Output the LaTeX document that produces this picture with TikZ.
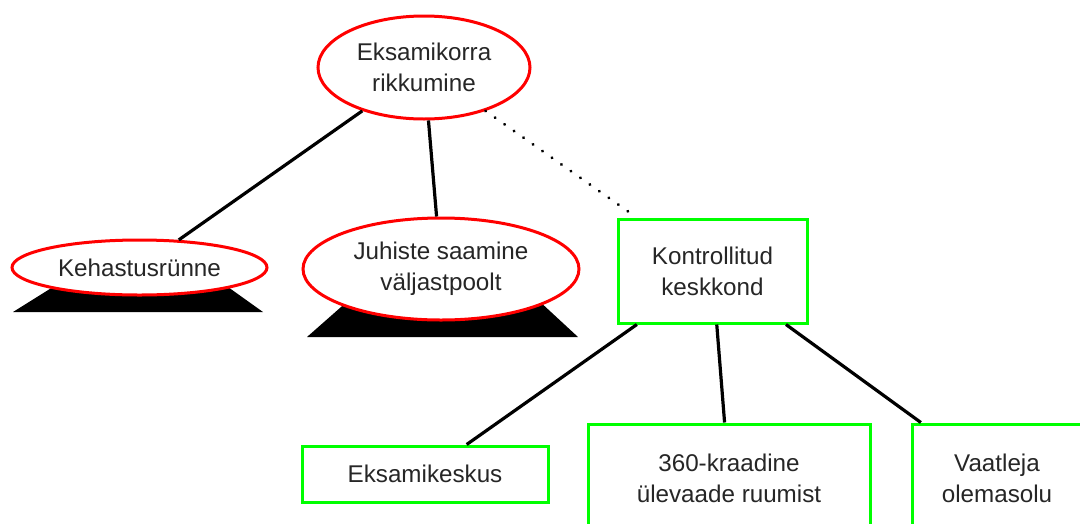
\documentclass[tikz,border=0pt]{standalone}
\usepackage{fontspec}
\setmainfont{Liberation Sans}
\usetikzlibrary{shapes.geometric}
\definecolor{nodered}{RGB}{255,0,0}
\definecolor{nodegreen}{RGB}{0,255,0}
\tikzset{
  lbl/.style={font=\fontsize{24.2}{31}\selectfont, align=center, text=black!85, inner sep=0pt},
  redell/.style={lbl, ellipse, draw=nodered, line width=3pt, fill=white},
  greenbox/.style={lbl, rectangle, draw=nodegreen, line width=3pt, fill=white},
  link/.style={line width=3.2pt, black},
  dotlink/.style={line width=3.2pt, black, line cap=round, dash pattern=on 0.1pt off 11.5pt},
  pedestal/.style={fill=black}
}
\begin{document}
\begin{tikzpicture}[x=1pt,y=-1pt]
\useasboundingbox (0,0) rectangle (1080,523);
\clip (0,0) rectangle (1080,523);
% pedestals
\fill[pedestal] (13,312) -- (263,312) -- (221,282) -- (61,282) -- cycle;
\fill[pedestal] (307,337) -- (578,337) -- (538,300) -- (349,300) -- cycle;
% nodes
\node[redell, minimum width=212pt, minimum height=103pt] (top) at (424,67.5) {Eksamikorra\\rikkumine};
\node[redell, minimum width=255pt, minimum height=55pt] (keh) at (139.5,267.5) {Kehastusrünne};
\node[redell, minimum width=276pt, minimum height=102pt] (juh) at (441,269) {Juhiste saamine\\väljastpoolt};
\node[greenbox, minimum width=189pt, minimum height=104pt] (kon) at (712.5,271) {Kontrollitud\\keskkond};
\node[greenbox, minimum width=246pt, minimum height=56pt] (eks) at (425,474) {Eksamikeskus};
\node[greenbox, minimum width=282pt, minimum height=108pt] (ring) at (729,478) {360-kraadine\\ülevaade ruumist};
\node[greenbox, minimum width=170pt, minimum height=108pt] (vaa) at (997,478) {Vaatleja\\olemasolu};
% connectors
\draw[link] (top) -- (keh);
\draw[link] (top) -- (juh);
\draw[dotlink] (top) -- (kon);
\draw[link] (kon) -- (eks);
\draw[link] (kon) -- (ring);
\draw[link] (kon) -- (vaa);
\end{tikzpicture}
\end{document}
